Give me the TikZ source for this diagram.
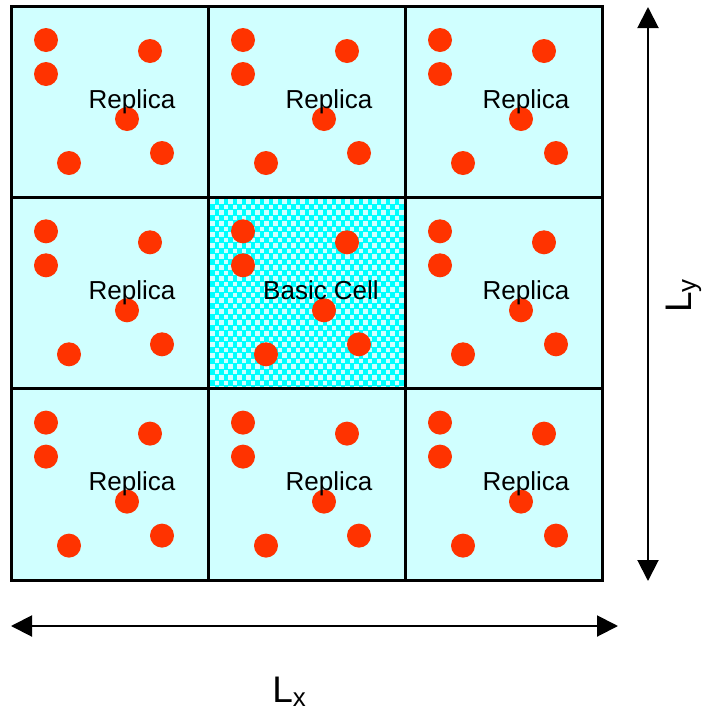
\documentclass[tikz,border=0pt]{standalone}
\usepackage{fontspec}
\setmainfont{Liberation Sans}
\usetikzlibrary{arrows.meta}

\definecolor{replicacyan}{RGB}{208,255,255}
\definecolor{basiccyan}{RGB}{0,255,255}
\definecolor{dotred}{RGB}{255,51,0}

\begin{document}
\begin{tikzpicture}[x=0.75pt,y=-0.75pt,
  celllabel/.style={font=\fontsize{19.5}{20}\selectfont, inner sep=0pt, anchor=base},
  dimlabel/.style={font=\fontsize{27.75}{30}\selectfont, inner sep=0pt, anchor=base west},
  dimarrow/.style={line width=1.5pt, {Triangle[length=15.75pt,width=15.75pt]}-{Triangle[length=15.75pt,width=15.75pt]}},
  gridline/.style={line width=2.25pt}]

\useasboundingbox (0,0) rectangle (704,715);

% Копии ячейки (светлый фон)
\foreach \i in {0,1,2} {
\foreach \j in {0,1,2}
    \fill[replicacyan] ({11+197*\i},{6+191.3*\j}) rectangle +(197,191.3);
}

% Основная ячейка (узор)
\begin{scope}
\clip (208,197.3) rectangle (405,388.6);
\fill[basiccyan] (208,197.3) rectangle (405,388.6);
\foreach \r in {0,...,35} {
\foreach \c in {0,...,22}
    \fill[white!82!basiccyan] ({210+9*\c+4.5*mod(\r,2)},{199+5.5*\r}) rectangle +(4.5,4.5);
}
\end{scope}

% Частицы (красные точки)
\foreach \i in {0,1,2} {
\foreach \j in {0,1,2} {
\foreach \dx/\dy in {35/34, 35/68, 139/45, 116/113, 151/147, 58/157}
    \fill[dotred] ({11+197*\i+\dx},{6+191.3*\j+\dy}) circle (12);
}}

% Подписи ячеек
\foreach \i/\j in {0/0, 1/0, 2/0, 0/1, 2/1, 0/2, 1/2, 2/2}
    \node[celllabel] (rep-\i-\j) at ({11+197*\i+121},{6+191.3*\j+102}) {Replica};
\node[celllabel] (basic) at (321,299.3) {Basic Cell};

% Сетка
\draw[gridline] (11,6) rectangle (602,580);
\draw[gridline] (208,6) -- (208,580);
\draw[gridline] (405,6) -- (405,580);
\draw[gridline] (11,197.3) -- (602,197.3);
\draw[gridline] (11,388.6) -- (602,388.6);

% Размеры
\coordinate (ly-top) at (648,7);
\coordinate (ly-bot) at (648,581);
\coordinate (lx-left) at (11,626);
\coordinate (lx-right) at (618,626);
\draw[dimarrow] (ly-bot) -- (ly-top);
\draw[dimarrow] (lx-left) -- (lx-right);

\node[dimlabel, rotate=90] (ly) at (691,313) {L\textsubscript{y}};
\node[dimlabel] (lx) at (272,702) {L\textsubscript{x}};
\end{tikzpicture}
\end{document}
